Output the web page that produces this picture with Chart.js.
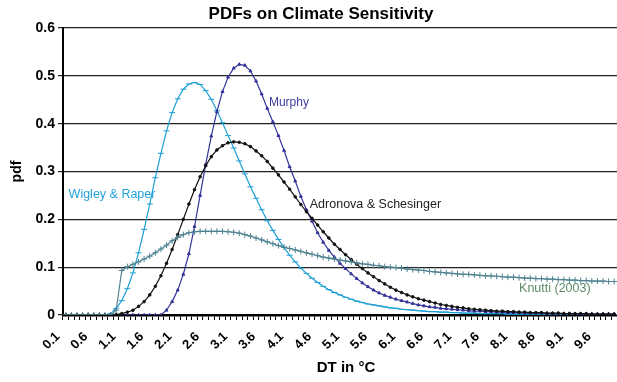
<!DOCTYPE html>
<html>
<head>
<meta charset="utf-8">
<script src="https://cdn.jsdelivr.net/npm/chart.js@4.4.1/dist/chart.umd.min.js"></script>
<style>
  html, body { margin: 0; padding: 0; background: #fff; overflow: hidden; }
  #wrap { width: 617px; height: 382px; overflow: hidden; }
</style>
</head>
<body>
<div id="wrap"><canvas id="chartCanvas" width="622" height="382"></canvas></div>
<script>
// climate sensitivity DT in degC, 0.1 steps
const temps = [
  "0.1", "0.2", "0.3", "0.4", "0.5", "0.6", "0.7", "0.8", "0.9", "1.0",
  "1.1", "1.2", "1.3", "1.4", "1.5", "1.6", "1.7", "1.8", "1.9", "2.0",
  "2.1", "2.2", "2.3", "2.4", "2.5", "2.6", "2.7", "2.8", "2.9", "3.0",
  "3.1", "3.2", "3.3", "3.4", "3.5", "3.6", "3.7", "3.8", "3.9", "4.0",
  "4.1", "4.2", "4.3", "4.4", "4.5", "4.6", "4.7", "4.8", "4.9", "5.0",
  "5.1", "5.2", "5.3", "5.4", "5.5", "5.6", "5.7", "5.8", "5.9", "6.0",
  "6.1", "6.2", "6.3", "6.4", "6.5", "6.6", "6.7", "6.8", "6.9", "7.0",
  "7.1", "7.2", "7.3", "7.4", "7.5", "7.6", "7.7", "7.8", "7.9", "8.0",
  "8.1", "8.2", "8.3", "8.4", "8.5", "8.6", "8.7", "8.8", "8.9", "9.0",
  "9.1", "9.2", "9.3", "9.4", "9.5", "9.6", "9.7", "9.8", "9.9"
];

const wigleyRaper = [
  0, 0, 0, 0, 0, 0, 0, 0, 0.003, 0.014,
  0.03, 0.055, 0.088, 0.13, 0.179, 0.232, 0.287, 0.338, 0.385, 0.423,
  0.452, 0.472, 0.483, 0.486, 0.482, 0.469, 0.451, 0.427, 0.402, 0.375,
  0.349, 0.322, 0.295, 0.268, 0.244, 0.22, 0.197, 0.177, 0.158, 0.141,
  0.125, 0.111, 0.098, 0.087, 0.077, 0.068, 0.06, 0.053, 0.047, 0.042,
  0.037, 0.033, 0.029, 0.026, 0.023, 0.021, 0.019, 0.017, 0.015, 0.014,
  0.012, 0.011, 0.01, 0.009, 0.008, 0.007, 0.007, 0.006, 0.006, 0.005,
  0.005, 0.004, 0.004, 0.004, 0.003, 0.003, 0.003, 0.003, 0.003, 0.002,
  0.002, 0.002, 0.002, 0.002, 0.002, 0.002, 0.002, 0.002, 0.002, 0.001,
  0.001, 0.001, 0.001, 0.001, 0.001, 0.001, 0.001, 0.001, 0.001
];

const murphy = [
  0, 0, 0, 0, 0, 0, 0, 0, 0, 0,
  0, 0, 0, 0, 0, 0, 0, 0, 0.01, 0.028,
  0.052, 0.085, 0.128, 0.185, 0.25, 0.315, 0.374, 0.425, 0.467, 0.497,
  0.516, 0.524, 0.522, 0.51, 0.489, 0.462, 0.432, 0.404, 0.375, 0.344,
  0.31, 0.28, 0.248, 0.22, 0.196, 0.172, 0.152, 0.135, 0.121, 0.108,
  0.097, 0.086, 0.076, 0.067, 0.059, 0.052, 0.046, 0.041, 0.037, 0.033,
  0.03, 0.027, 0.024, 0.021, 0.019, 0.017, 0.016, 0.014, 0.013, 0.012,
  0.011, 0.01, 0.009, 0.008, 0.008, 0.007, 0.007, 0.006, 0.006, 0.005,
  0.005, 0.005, 0.004, 0.004, 0.004, 0.004, 0.003, 0.003, 0.003, 0.003,
  0.003, 0.002, 0.002, 0.002, 0.002, 0.002, 0.002, 0.002, 0.002
];

const adronovaSchesinger = [
  0, 0, 0, 0, 0, 0, 0, 0, 0, 0.001,
  0.003, 0.006, 0.01, 0.018, 0.028, 0.042, 0.06, 0.082, 0.108, 0.137,
  0.168, 0.2, 0.232, 0.262, 0.289, 0.312, 0.331, 0.345, 0.354, 0.36,
  0.362, 0.361, 0.358, 0.352, 0.343, 0.333, 0.321, 0.307, 0.293, 0.278,
  0.263, 0.247, 0.231, 0.216, 0.202, 0.188, 0.174, 0.161, 0.148, 0.137,
  0.126, 0.116, 0.106, 0.097, 0.088, 0.08, 0.072, 0.065, 0.058, 0.052,
  0.047, 0.042, 0.038, 0.034, 0.031, 0.028, 0.025, 0.022, 0.02, 0.018,
  0.016, 0.015, 0.013, 0.012, 0.011, 0.01, 0.009, 0.008, 0.008, 0.007,
  0.007, 0.006, 0.006, 0.005, 0.005, 0.005, 0.004, 0.004, 0.004, 0.003,
  0.003, 0.003, 0.003, 0.003, 0.002, 0.002, 0.002, 0.002, 0.002
];

const knutti2003 = [
  0, 0, 0, 0, 0, 0, 0, 0, 0, 0.01,
  0.093, 0.101, 0.106, 0.111, 0.117, 0.123, 0.13, 0.138, 0.146, 0.155,
  0.162, 0.168, 0.172, 0.174, 0.175, 0.175, 0.175, 0.175, 0.175, 0.174,
  0.173, 0.171, 0.168, 0.165, 0.161, 0.157, 0.153, 0.149, 0.145, 0.142,
  0.139, 0.136, 0.133, 0.13, 0.127, 0.124, 0.121, 0.119, 0.117, 0.115,
  0.113, 0.111, 0.109, 0.107, 0.106, 0.104, 0.103, 0.101, 0.1, 0.099,
  0.098, 0.096, 0.095, 0.094, 0.093, 0.091, 0.09, 0.089, 0.088, 0.087,
  0.086, 0.085, 0.085, 0.084, 0.083, 0.082, 0.082, 0.081, 0.08, 0.079,
  0.079, 0.078, 0.077, 0.077, 0.076, 0.076, 0.075, 0.075, 0.074, 0.074,
  0.073, 0.073, 0.072, 0.072, 0.071, 0.071, 0.071, 0.07, 0.07
];

const yTicks = [0, 0.1, 0.2, 0.3, 0.4, 0.5, 0.6];

const FONT = "Arial, 'Liberation Sans', Helvetica, sans-serif";
const TITLE = "PDFs on Climate Sensitivity";
const X_TITLE = "DT in °C";

// in-chart series names (anchored by category index and pdf value)
const seriesLabels = [
  { text: "Wigley & Raper", idx: 0.5, val: 0.251, color: "#1f9fd6", size: 12.5 },
  { text: "Murphy", idx: 36.3, val: 0.444, color: "#3d3d9e", size: 12 },
  { text: "Adronova & Schesinger", idx: 43.6, val: 0.23, color: "#222222", size: 12.5 },
  { text: "Knutti (2003)", idx: 81.0, val: 0.056, color: "#5b8a68", size: 12.5 },
];

const labelPlugin = {
  id: "seriesLabels",
  afterDatasetsDraw(chart) {
    const { ctx, scales: { x, y } } = chart;
    ctx.save();
    ctx.textAlign = "left";
    ctx.textBaseline = "middle";
    seriesLabels.forEach((l) => {
      ctx.font = l.size + "px " + FONT;
      ctx.fillStyle = l.color;
      ctx.fillText(l.text, x.getPixelForValue(l.idx), y.getPixelForValue(l.val));
    });
    // titles, placed like the original
    ctx.fillStyle = "#000";
    ctx.textAlign = "center";
    ctx.font = "bold 17px " + FONT;
    ctx.fillText(TITLE, 321, 14);
    ctx.font = "bold 15px " + FONT;
    ctx.fillText(X_TITLE, 346, 368);
    ctx.restore();
  },
};

function lineSet(label, data, color, pointStyle, radius) {
  return {
    label,
    data,
    borderColor: color,
    backgroundColor: color,
    borderWidth: 1.2,
    pointStyle,
    pointRadius: radius,
    pointBorderWidth: 1,
    pointBorderColor: color,
    pointBackgroundColor: color,
    tension: 0,
    fill: false,
  };
}

const ctx = document.getElementById("chartCanvas").getContext("2d");
new Chart(ctx, {
  type: "line",
  data: {
    labels: temps,
    datasets: [
      lineSet("Knutti (2003)", knutti2003, "#4f8391", "cross", 3),
      lineSet("Adronova & Schesinger", adronovaSchesinger, "#111111", "circle", 1.3),
      lineSet("Murphy", murphy, "#333399", "triangle", 1.7),
      lineSet("Wigley & Raper", wigleyRaper, "#1b9fd4", "line", 3),
    ],
  },
  options: {
    responsive: false,
    animation: false,
    layout: { padding: { left: 0, right: 0, top: 28, bottom: 0 } },
    plugins: {
      legend: { display: false },
      tooltip: { enabled: false },
      title: { display: false },
    },
    scales: {
      x: {
        type: "category",
        offset: true,
        afterFit: (s) => { s.height = 67; s.paddingRight = 0; s.paddingLeft = 0; },
        grid: {
          offset: true,
          drawOnChartArea: false,
          drawTicks: true,
          tickLength: 5,
          color: "#000",
          lineWidth: 1,
        },
        border: { display: true, color: "#000", width: 2.5 },
        ticks: {
          autoSkip: false,
          maxRotation: 45,
          minRotation: 45,
          padding: 9,
          labelOffset: -8,
          color: "#000",
          font: { family: FONT, size: 13, weight: "bold" },
          callback: (v, i) => (i % 5 === 0 ? temps[i] : ""),
        },
        title: { display: false },
      },
      y: {
        min: 0,
        max: 0.6,
        afterFit: (s) => { s.width = 63; },
        afterBuildTicks: (s) => { s.ticks = yTicks.map((v) => ({ value: v })); },
        grid: {
          color: "#222",
          lineWidth: 1.2,
          tickLength: 5,
        },
        border: { display: true, color: "#000", width: 2 },
        ticks: {
          padding: 3,
          color: "#000",
          font: { family: FONT, size: 14, weight: "bold" },
          callback: (v) => (v === 0 ? "0" : v.toFixed(1)),
        },
        title: {
          display: true,
          text: "pdf",
          color: "#000",
          font: { family: FONT, size: 14, weight: "bold" },
          padding: { top: 9 },
        },
      },
    },
  },
  plugins: [labelPlugin],
});
</script>
</body>
</html>
